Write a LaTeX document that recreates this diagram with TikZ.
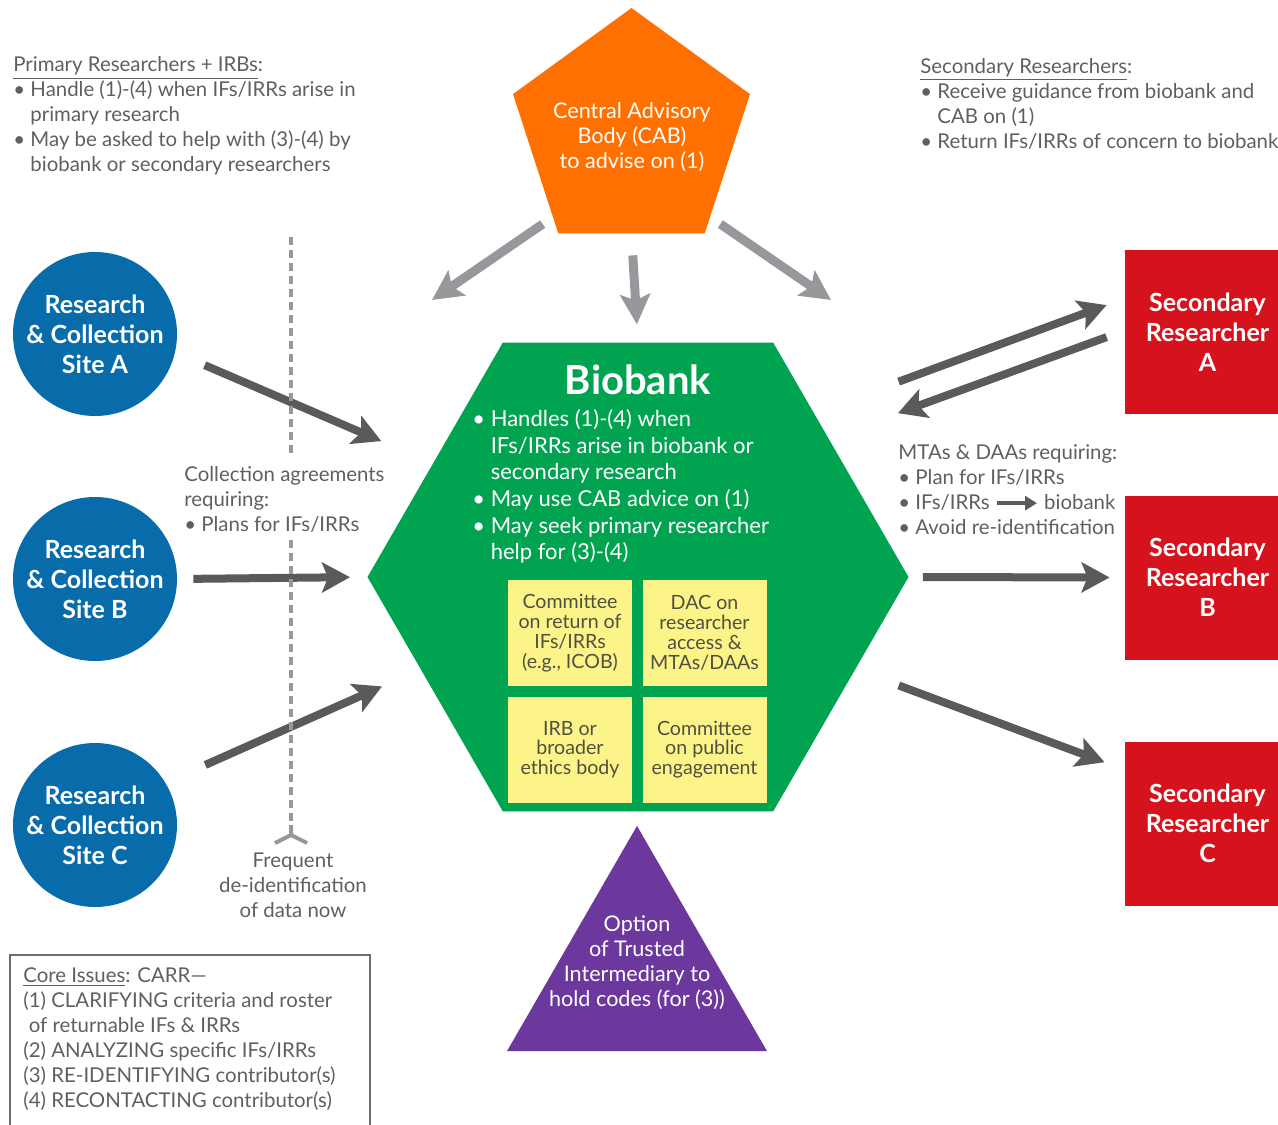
\documentclass[tikz,border=0pt]{standalone}
\usepackage{fontspec}
\setmainfont{Lato}
\usetikzlibrary{arrows.meta,positioning,shapes.geometric}
\definecolor{cabOrange}{RGB}{255,112,0}
\definecolor{bankGreen}{RGB}{0,163,80}
\definecolor{siteBlue}{RGB}{8,108,170}
\definecolor{secRed}{RGB}{214,18,28}
\definecolor{trustPurple}{RGB}{108,56,158}
\definecolor{comYellow}{RGB}{252,244,136}
\definecolor{comText}{RGB}{80,80,66}
\definecolor{textGray}{RGB}{95,95,95}
\definecolor{darkArrow}{RGB}{90,90,90}
\definecolor{lightArrow}{RGB}{152,152,156}
\definecolor{boxGray}{RGB}{110,110,110}

\newcommand{\dotitem}{\textbullet\ }
\newcommand{\dotgap}{\phantom{\textbullet\ }}
\newcommand{\toarrow}{\tikz[baseline=-0.6ex]\draw[darkArrow,line width=2pt,-{Triangle[length=6pt,width=7pt]}] (0pt,0pt) -- (20pt,0pt);}

\begin{document}
\begin{tikzpicture}[x=0.5pt,y=-0.5pt,
    note/.style={font=\fontsize{10.2}{12.5}\selectfont, text=textGray, align=left, inner sep=0pt, anchor=west},
    site/.style={circle, fill=siteBlue, minimum size=82pt, inner sep=0pt, text=white, align=center, font=\bfseries\fontsize{12.5}{15}\selectfont},
    secbox/.style={rectangle, fill=secRed, minimum width=82.5pt, minimum height=82pt, inner sep=0pt, text=white, align=center, font=\bfseries\fontsize{12.5}{15}\selectfont},
    comm/.style={rectangle, fill=comYellow, minimum width=62pt, minimum height=53pt, inner sep=0pt, text=comText, align=center, font=\fontsize{9.8}{9.9}\selectfont},
    inside/.style={text=white, align=center, font=\fontsize{10.8}{12.5}\selectfont},
    flow/.style={line width=4pt, darkArrow, -{Stealth[length=14pt,width=15pt,inset=3pt]}},
    advice/.style={line width=4.5pt, lightArrow, -{Stealth[length=15pt,width=15pt,inset=3pt]}},
    sepline/.style={line width=2pt, lightArrow, dash pattern=on 4pt off 2.5pt}
]
\useasboundingbox (0,0) rectangle (1278,1124);

% notes at the top
\node[note] (prim) at (13,116) {\underline{Primary Researchers + IRBs}:\\
  \dotitem Handle (1)-(4) when IFs/IRRs arise in\\
  \dotgap primary research\\
  \dotitem May be asked to help with (3)-(4) by\\
  \dotgap biobank or secondary researchers};
\node[note] (secnote) at (920,103.5) {\underline{Secondary Researchers}:\\
  \dotitem Receive guidance from biobank and\\
  \dotgap CAB on (1)\\
  \dotitem Return IFs/IRRs of concern to biobank};

% central advisory body
\node[regular polygon, regular polygon sides=5, minimum size=124.6pt, inner sep=0pt, fill=cabOrange] (cab) at (631.5,132.6) {};
\node[inside] (cabtext) at (632,137) {Central Advisory\\Body (CAB)\\to advise on (1)};

% biobank
\node[regular polygon, regular polygon sides=6, minimum size=270.5pt, inner sep=0pt, fill=bankGreen] (bio) at (638,577) {};
\node[text=white, font=\bfseries\fontsize{20}{24}\selectfont] (biotitle) at (638,380) {Biobank};
\node[note, text=white, font=\fontsize{11}{13.3}\selectfont] (biotext) at (472,486.5) {\dotitem Handles (1)-(4) when\\
  \dotgap IFs/IRRs arise in biobank or\\
  \dotgap secondary research\\
  \dotitem May use CAB advice on (1)\\
  \dotitem May seek primary researcher\\
  \dotgap help for (3)-(4)};
\node[comm] (comReturn) at (570,633) {Committee\\on return of\\IFs/IRRs\\(e.g., ICOB)};
\node[comm] (comAccess) at (704.5,633) {DAC on\\researcher\\access \&\\MTAs/DAAs};
\node[comm] (comEthics) at (570,749.5) {IRB or\\broader\\ethics body};
\node[comm] (comPublic) at (704.5,749.5) {Committee\\on public\\engagement};

% trusted intermediary
\node[regular polygon, regular polygon sides=3, minimum size=150.1pt, inner sep=0pt, fill=trustPurple] (trust) at (637,976) {};
\node[inside] (trusttext) at (637,962.5) {Option\\of Trusted\\Intermediary to\\hold codes (for (3))};

% collection sites
\node[site] (siteA) at (95,334) {Research\\\& Collection\\Site A};
\node[site] (siteB) at (95,579) {Research\\\& Collection\\Site B};
\node[site] (siteC) at (95,825) {Research\\\& Collection\\Site C};

% secondary researchers
\node[secbox] (secA) at (1207.5,332) {Secondary\\Researcher\\A};
\node[secbox] (secB) at (1207.5,577.5) {Secondary\\Researcher\\B};
\node[secbox] (secC) at (1207.5,823.5) {Secondary\\Researcher\\C};

% arrows
\coordinate (toPrimary) at (432,300);
\coordinate (toSecondary) at (831,300);
\draw[advice, shorten <=6pt] (cab.227) -- (toPrimary);
\draw[advice, shorten <=10.8pt, shorten >=9pt] (cab.south) -- (bio.north);
\draw[advice, shorten <=6pt] (cab.313) -- (toSecondary);

\draw[flow, shorten <=16pt, shorten >=28pt] (siteA.-13) -- (bio.151);
\draw[flow, shorten <=8pt, shorten >=8.5pt] (siteB.east) -- (bio.west);
\draw[flow, shorten <=21.7pt, shorten >=21pt] (siteC.31) -- (bio.203);
\draw[flow, shorten <=45pt, shorten >=9.6pt] (bio.43) -- (secA.158);
\draw[flow, shorten <=9.6pt, shorten >=36.7pt] (secA.179) -- (bio.36);
\draw[flow, shorten <=7pt, shorten >=7.5pt] (bio.east) -- (secB.west);
\draw[flow, shorten <=23pt, shorten >=10.7pt] (bio.-23) -- (secC.147);

% de-identification line
\node[note] (collect) at (184,499) {Collection agreements\\
  requiring:\\
  \dotitem Plans for IFs/IRRs};
\node[note, align=center, anchor=center] (freq) at (293,885) {Frequent\\de-identification\\of data now};
\coordinate (sepTop) at (291,237);
\coordinate (sepFork) at (291,835);
\draw[sepline] (sepTop) -- ([yshift=4pt]sepTop |- collect.north);
\draw[sepline] ([yshift=-4pt]sepTop |- collect.south) -- ([yshift=6pt]sepFork);
\draw[lightArrow, line width=2pt] (291,825) -- (sepFork) -- (275,843);
\draw[lightArrow, line width=2pt] (sepFork) -- (307,843);

\node[note] (mta) at (898,489.5) {MTAs \& DAAs requiring:\\
  \dotitem Plan for IFs/IRRs\\
  \dotitem IFs/IRRs \toarrow{} biobank\\
  \dotitem Avoid re-identification};

% core issues
\node[note] (core) at (23,1039.5) {\underline{Core Issues}: CARR—\\
  (1) CLARIFYING criteria and roster\\
  \phantom{(}of returnable IFs \& IRRs\\
  (2) ANALYZING specific IFs/IRRs\\
  (3) RE-IDENTIFYING contributor(s)\\
  (4) RECONTACTING contributor(s)};
\draw[boxGray, line width=1pt] (10,955) rectangle (370,1140);
\end{tikzpicture}
\end{document}
